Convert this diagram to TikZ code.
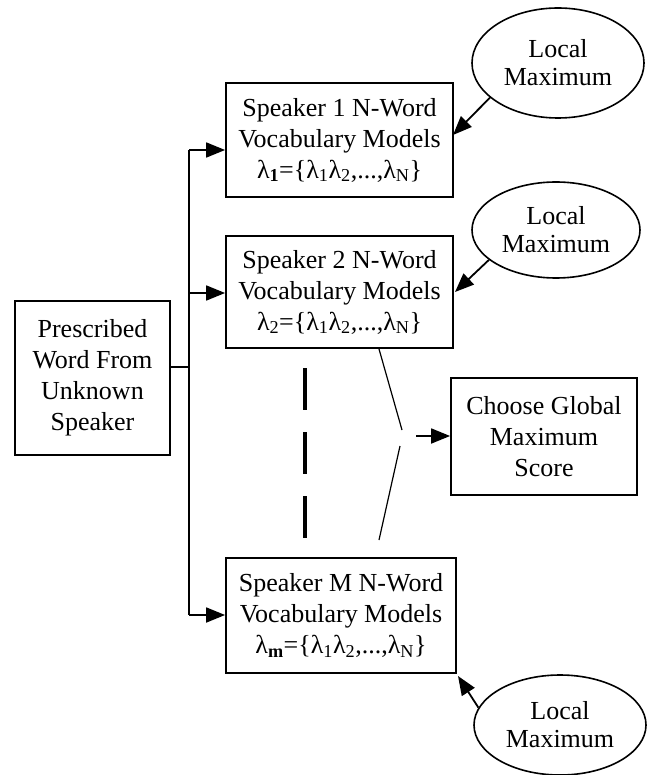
\documentclass[tikz,border=0pt]{standalone}
\usepackage{fontspec}
\setmainfont{Liberation Serif}
\usetikzlibrary{arrows.meta,shapes.geometric}
\begin{document}
\begin{tikzpicture}[x=1pt,y=-1pt,
  box/.style={draw,line width=1.8pt,rectangle,inner sep=0pt,align=center,font=\fontsize{26}{31}\selectfont},
  oval/.style={draw,line width=1.6pt,ellipse,inner sep=0pt,align=center,font=\fontsize{26}{28}\selectfont,minimum width=172pt},
  conn/.style={line width=1.8pt},
  arr/.style={conn,-{Triangle[length=19pt,width=15pt]}},
  slim/.style={line width=1.2pt},
  dots/.style={line width=4pt,dash pattern=on 42pt off 22pt}]
\useasboundingbox (0,0) rectangle (651,775);

\node[box,minimum width=227pt,minimum height=114pt] (b1) at (339.5,140)
  {Speaker 1 N-Word\\Vocabulary Models\\λ\textsubscript{\textbf{1}}=\{λ\textsubscript{1}λ\textsubscript{2},...,λ\textsubscript{N}\}};
\node[box,minimum width=227pt,minimum height=112pt] (b2) at (339.5,292)
  {Speaker 2 N-Word\\Vocabulary Models\\λ\textsubscript{2}=\{λ\textsubscript{1}λ\textsubscript{2},...,λ\textsubscript{N}\}};
\node[box,minimum width=230pt,minimum height=115pt] (bm) at (341,615.5)
  {Speaker M N-Word\\Vocabulary Models\\λ\textsubscript{\textbf{m}}=\{λ\textsubscript{1}λ\textsubscript{2},...,λ\textsubscript{N}\}};
\node[box,minimum width=155pt,minimum height=154pt] (pres) at (92.5,378)
  {Prescribed\\Word From\\Unknown\\Speaker};
\node[box,minimum width=186pt,minimum height=117pt] (cho) at (544,436.5)
  {Choose Global\\Maximum\\Score};

\node[oval,minimum height=110pt] (e1) at (558,63) {Local\\Maximum};
\node[oval,minimum height=96pt,minimum width=168pt] (e2) at (556,230) {Local\\Maximum};
\node[oval,minimum height=100pt] (e3) at (560,725) {Local\\Maximum};

% trunk
\coordinate (t1) at (189,150);
\coordinate (t2) at (189,293);
\coordinate (tp) at (189,367);
\coordinate (tm) at (189,615);
\draw[conn] (t1) -- (tm);
\draw[conn] (pres.east |- tp) -- (tp);
\draw[arr] (t1) -- (b1.west |- t1);
\draw[arr] (t2) -- (b2.west |- t2);
\draw[arr] (tm) -- (bm.west |- tm);

% local maxima
\coordinate (a1) at (453,135);
\coordinate (a2) at (455,292);
\coordinate (a3) at (458,676);
\draw[arr] (e1.207) -- (a1);
\draw[arr] (e2.204) -- (a2);
\draw[arr] (e3.168) -- (a3);

% dashed separator
\coordinate (d1) at (305,368);
\coordinate (d2) at (305,540);
\draw[dots] (d1) -- (d2);

% lines to global maximum
\coordinate (s1) at (379,349);
\coordinate (s2) at (402,430);
\coordinate (s3) at (400,446);
\coordinate (s4) at (379,540);
\coordinate (g) at (416,436);
\draw[slim] (s1) -- (s2);
\draw[slim] (s3) -- (s4);
\draw[arr] (g) -- (cho.west |- g);
\end{tikzpicture}
\end{document}
